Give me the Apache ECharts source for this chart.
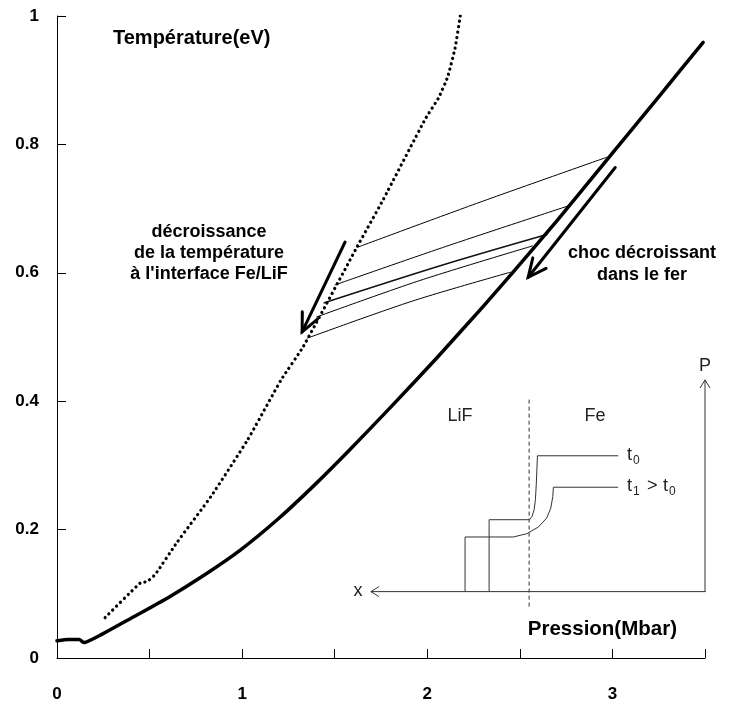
<!DOCTYPE html>
<html><head><meta charset="utf-8">
<script src="https://cdn.jsdelivr.net/npm/echarts@6/dist/echarts.min.js"></script>
<style>html,body{margin:0;padding:0;background:#fff}#c{width:736px;height:705px}</style>
</head><body><div id="c"></div>
<script>
// ---- data (pressure in Mbar, temperature in eV) ----
const shockP = [0, 0.06, 0.12, 0.146, 0.23, 0.4, 0.6, 0.8, 0.99, 1.2, 1.4, 1.58, 1.8, 2.05, 2.3, 2.46, 2.7, 2.99, 3.25, 3.49];
const shockT = [0.027, 0.029, 0.029, 0.024, 0.035, 0.062, 0.094, 0.13, 0.168, 0.218, 0.272, 0.324, 0.39, 0.467, 0.547, 0.6, 0.681, 0.783, 0.874, 0.959];

const interfaceP = [0.26, 0.45, 0.486, 0.53, 0.648, 0.83, 1.03, 1.21, 1.33, 1.62, 1.76, 1.99, 2.06, 2.11, 2.15, 2.178];
const interfaceT = [0.063, 0.117, 0.119, 0.13, 0.18, 0.251, 0.34, 0.433, 0.485, 0.64, 0.713, 0.84, 0.872, 0.905, 0.95, 1.0];

const release1P = [1.625, 2.285, 2.97];  const release1T = [0.64, 0.71, 0.78];
const release2P = [1.5, 2.1, 2.77];      const release2T = [0.581, 0.641, 0.705];
const release3P = [1.44, 2.07, 2.65];    const release3T = [0.553, 0.611, 0.66];
const release4P = [1.40, 1.96, 2.57];    const release4T = [0.531, 0.588, 0.642];
const release5P = [1.35, 1.92, 2.45];    const release5T = [0.498, 0.556, 0.601];

// annotation arrows [fromP, fromT, toP, toT]
const arrowLeft = [1.556, 0.648, 1.324, 0.508];
const arrowRight = [3.015, 0.764, 2.545, 0.593];

// inset sketch (drawn in the same axis units)
const insetAxisY = 0.1034;
const insetAxisLeft = 1.696;
const insetAxisRight = 3.5;
const insetAxisTop = 0.433;
const insetInterfaceP = 2.55;
const insetInterfaceT = [0.080, 0.404];
const profile0P = [2.334, 2.334, 2.552, 2.566, 2.577, 2.584, 2.589, 2.595, 3.031];
const profile0T = [0.1034, 0.2154, 0.2154, 0.2205, 0.231, 0.2465, 0.2725, 0.315, 0.315];
const profile1P = [2.204, 2.204, 2.465, 2.537, 2.6, 2.645, 2.667, 2.678, 2.681, 3.031];
const profile1T = [0.1034, 0.1885, 0.1885, 0.1936, 0.204, 0.218, 0.2336, 0.2516, 0.266, 0.266];

const xTickLabels = ['0', '1', '2', '3'];
const yTickLabels = ['0', '0.2', '0.4', '0.6', '0.8', '1'];

const zip = (a, b) => a.map((v, i) => [v, b[i]]);
const FONT = '"Liberation Sans", Arial, sans-serif';

function thin(p, t, extra) {
  return Object.assign({
    type: 'line', data: zip(p, t), showSymbol: false, symbol: 'none', silent: true,
    lineStyle: { color: '#000', width: 1 }, z: 3
  }, extra || {});
}

function arrowSeries(items, color, width, headLen, angDeg) {
  return {
    type: 'custom', coordinateSystem: 'cartesian2d', silent: true, clip: false, z: 5,
    data: items,
    encode: { x: [0, 2], y: [1, 3] },
    renderItem: function (params, api) {
      const p1 = api.coord([api.value(0), api.value(1)]);
      const p2 = api.coord([api.value(2), api.value(3)]);
      const ang = Math.atan2(p1[1] - p2[1], p1[0] - p2[0]);
      const a = angDeg * Math.PI / 180;
      const b1 = [p2[0] + headLen * Math.cos(ang + a), p2[1] + headLen * Math.sin(ang + a)];
      const b2 = [p2[0] + headLen * Math.cos(ang - a), p2[1] + headLen * Math.sin(ang - a)];
      return {
        type: 'group', children: [
          { type: 'line', shape: { x1: p1[0], y1: p1[1], x2: p2[0], y2: p2[1] }, style: { stroke: color, lineWidth: width, lineCap: 'round' } },
          { type: 'polyline', shape: { points: [b1, p2, b2] }, style: { stroke: color, lineWidth: width, fill: null, lineJoin: 'miter', lineCap: 'round' } }
        ]
      };
    }
  };
}

const chart = echarts.init(document.getElementById('c'), null, { renderer: 'canvas' });

function txt(text, x, y, size, weight, align, color) {
  return {
    type: 'text', x: x, y: y, silent: true, z: 10,
    style: { text: text, font: (weight || 'normal') + ' ' + size + 'px ' + FONT, fill: color || '#000', align: align || 'left', verticalAlign: 'middle' }
  };
}

const option = {
  backgroundColor: '#fff',
  animation: false,
  grid: { left: 57, right: 31, top: 16, bottom: 47, containLabel: false },
  xAxis: {
    type: 'value', min: 0, max: 3.5, interval: 0.5,
    axisLine: { show: true, onZero: false, lineStyle: { color: '#000', width: 1 } },
    axisTick: { show: true, inside: true, length: 9, lineStyle: { color: '#000', width: 1 } },
    splitLine: { show: false },
    axisLabel: {
      margin: 28, color: '#000', fontSize: 17, fontWeight: 'bold', fontFamily: FONT,
      formatter: v => (Math.abs(v - Math.round(v)) < 1e-6 ? (xTickLabels[Math.round(v)] || '') : '')
    }
  },
  yAxis: {
    type: 'value', min: 0, max: 1, interval: 0.2,
    axisLine: { show: true, onZero: false, lineStyle: { color: '#000', width: 1 } },
    axisTick: { show: true, inside: true, length: 9, lineStyle: { color: '#000', width: 1 } },
    splitLine: { show: false },
    axisLabel: {
      margin: 18, color: '#000', fontSize: 17, fontWeight: 'bold', fontFamily: FONT,
      formatter: v => yTickLabels[Math.round(v * 5)]
    }
  },
  series: [
    {
      type: 'line', data: zip(shockP, shockT), showSymbol: false, symbol: 'none', silent: true, z: 4,
      smooth: 0.15,
      lineStyle: { color: '#000', width: 3.5, cap: 'round', join: 'round' }
    },
    {
      type: 'line', data: zip(interfaceP, interfaceT), showSymbol: false, symbol: 'none', silent: true, z: 4,
      smooth: 0.15,
      lineStyle: { color: '#000', width: 3.2, type: [0.1, 5.3], cap: 'round' }
    },
    thin(release1P, release1T, { smooth: 0.3 }),
    thin(release2P, release2T, { smooth: 0.3 }),
    thin(release3P, release3T, { smooth: 0.3, lineStyle: { color: '#111', width: 1.4 } }),
    thin(release4P, release4T, { smooth: 0.3 }),
    thin(release5P, release5T, { smooth: 0.3 }),
    arrowSeries([arrowLeft, arrowRight], '#000', 3, 20, 25),
    // inset sketch
    arrowSeries([[insetAxisRight, insetAxisY, insetAxisLeft, insetAxisY], [insetAxisRight, insetAxisY, insetAxisRight, insetAxisTop]], '#333', 1, 9, 32),
    thin([insetInterfaceP, insetInterfaceP], insetInterfaceT, { lineStyle: { color: '#333', width: 1, type: [4, 3] } }),
    thin(profile0P, profile0T, { lineStyle: { color: '#333', width: 1 } }),
    thin(profile1P, profile1T, { lineStyle: { color: '#333', width: 1 } })
  ],
  graphic: [
    txt('Température(eV)', 113, 38, 20, 'bold', 'left'),
    txt('décroissance', 209, 232, 18, 'bold', 'center'),
    txt('de la température', 209, 253, 18, 'bold', 'center'),
    txt("à l'interface Fe/LiF", 209, 274, 18, 'bold', 'center'),
    txt('choc décroissant', 642, 253, 18, 'bold', 'center'),
    txt('dans le fer', 642, 275, 18, 'bold', 'center'),
    txt('Pression(Mbar)', 677, 629, 20.5, 'bold', 'right'),
    txt('P', 705, 366, 18, 'normal', 'center', '#222'),
    txt('x', 358, 591, 18, 'normal', 'center', '#222'),
    txt('LiF', 460, 416, 18, 'normal', 'center', '#222'),
    txt('Fe', 595, 416, 18, 'normal', 'center', '#222'),
    txt('t', 627, 455, 18, 'normal', 'left', '#222'),
    txt('0', 633, 461, 12, 'normal', 'left', '#222'),
    txt('t', 627, 486, 18, 'normal', 'left', '#222'),
    txt('1', 633, 492, 12, 'normal', 'left', '#222'),
    txt('>', 647, 486, 18, 'normal', 'left', '#222'),
    txt('t', 663, 486, 18, 'normal', 'left', '#222'),
    txt('0', 669, 492, 12, 'normal', 'left', '#222')
  ]
};
chart.setOption(option);
</script>
</body></html>
